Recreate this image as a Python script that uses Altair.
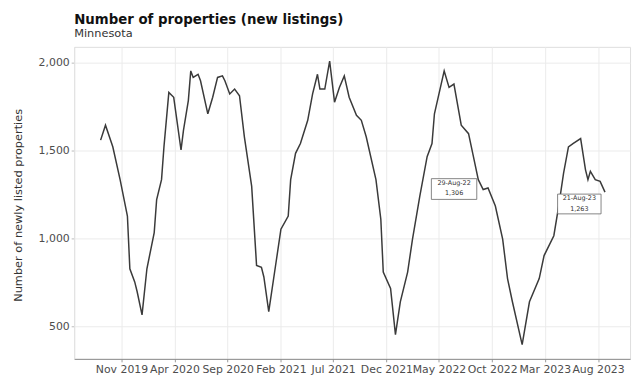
import altair as alt
import pandas as pd

# ---- data ----
dates = [
    "2019-09-02", "2019-09-16", "2019-10-07", "2019-10-28", "2019-11-18", "2019-11-25",
    "2019-12-09", "2019-12-16", "2019-12-30", "2020-01-13", "2020-02-03", "2020-02-10",
    "2020-02-24", "2020-03-02", "2020-03-16", "2020-03-30", "2020-04-20", "2020-04-27",
    "2020-05-11", "2020-05-18", "2020-05-25", "2020-06-08", "2020-06-15", "2020-07-06",
    "2020-07-20", "2020-08-03", "2020-08-17", "2020-08-24", "2020-09-07", "2020-09-21",
    "2020-10-05", "2020-10-19", "2020-11-09", "2020-11-23", "2020-12-07", "2020-12-14",
    "2020-12-28", "2021-01-18", "2021-02-01", "2021-02-22", "2021-03-01", "2021-03-15",
    "2021-03-29", "2021-04-19", "2021-05-03", "2021-05-17", "2021-05-24", "2021-06-07",
    "2021-06-21", "2021-07-05", "2021-07-19", "2021-08-02", "2021-08-16", "2021-09-06",
    "2021-09-20", "2021-10-04", "2021-11-01", "2021-11-15", "2021-11-22", "2021-12-13",
    "2021-12-27", "2022-01-10", "2022-01-31", "2022-02-14", "2022-03-07", "2022-03-28",
    "2022-04-11", "2022-04-18", "2022-05-16", "2022-05-30", "2022-06-13", "2022-07-04",
    "2022-07-25", "2022-08-08", "2022-08-22", "2022-08-29", "2022-09-05", "2022-09-19",
    "2022-10-10", "2022-10-31", "2022-11-14", "2022-11-28", "2022-12-26", "2023-01-16",
    "2023-02-13", "2023-02-27", "2023-03-27", "2023-04-10", "2023-04-24", "2023-05-08",
    "2023-05-22", "2023-06-12", "2023-06-26", "2023-07-03", "2023-07-10", "2023-07-24",
    "2023-08-07", "2023-08-21",
]
values = [
    1559, 1644, 1521, 1334, 1127, 827,
    752, 696, 564, 827, 1033, 1221,
    1334, 1521, 1831, 1803, 1503, 1615,
    1784, 1953, 1916, 1934, 1897, 1709,
    1803, 1916, 1925, 1897, 1822, 1850,
    1812, 1578, 1296, 846, 835, 780,
    583, 864, 1052, 1127, 1334, 1484,
    1540, 1672, 1822, 1934, 1850, 1850,
    2009, 1775, 1859, 1925, 1803, 1700,
    1672, 1578, 1334, 1109, 808, 715,
    452, 639, 808, 996, 1240, 1465,
    1540, 1709, 1953, 1859, 1878, 1644,
    1596, 1465, 1334, 1306, 1278, 1287,
    1184, 996, 771, 639, 395, 639,
    771, 902, 1015, 1184, 1371, 1521,
    1540, 1568, 1390, 1334, 1381, 1334,
    1324, 1263,
]
x_tick_labels = ["Nov 2019", "Apr 2020", "Sep 2020", "Feb 2021", "Jul 2021",
                 "Dec 2021", "May 2022", "Oct 2022", "Mar 2023", "Aug 2023"]
y_ticks = [500, 1000, 1500, 2000]
annotated_dates = ["2022-08-29", "2023-08-21"]

title_text = "Number of properties (new listings)"
subtitle_text = "Minnesota"
y_title = "Number of newly listed properties"

FONT = "DejaVu Sans"

df = pd.DataFrame({"date": pd.to_datetime(dates), "value": values})

ann = df[df["date"].isin(pd.to_datetime(annotated_dates))].copy()
ann["label_date"] = ann["date"].dt.strftime("%d-%b-%y")
ann["label_value"] = ann["value"].map(lambda v: f"{v:,}")

tick_dt = [pd.to_datetime(t, format="%b %Y") for t in x_tick_labels]
tick_values = [alt.DateTime(year=t.year, month=t.month, date=1) for t in tick_dt]

x_scale = alt.Scale(domain=[alt.DateTime(year=2019, month=6, date=18),
                            alt.DateTime(year=2023, month=11, date=1)])
y_scale = alt.Scale(domain=[314, 2090], nice=False, zero=False)

x_enc = alt.X(
    "date:T", scale=x_scale, title=None,
    axis=alt.Axis(values=tick_values, format="%b %Y", labelOverlap=False,
                  labelBound=False, labelFlush=False, labelFontSize=11,
                  labelColor="#4d4d4d", labelFont=FONT, tickSize=3, tickColor="#999999",
                  labelPadding=2, domainColor="#8c8c8c", gridColor="#ebebeb"),
)
y_enc = alt.Y(
    "value:Q", scale=y_scale,
    axis=alt.Axis(values=y_ticks, format=",d", labelFontSize=11, labelColor="#4d4d4d",
                  labelFont=FONT, tickSize=3, tickColor="#bbbbbb", labelPadding=2,
                  domainColor="#e3e3e3", gridColor="#ebebeb",
                  title=y_title, titleFont=FONT, titleFontSize=11.5, titleFontWeight="normal",
                  titleColor="#333333", titleX=-56, titleY=160, titleAngle=-90,
                  titleAlign="center", titleBaseline="middle"),
)

line = alt.Chart(df).mark_line(color="#3a3a3a", strokeWidth=1.5).encode(x=x_enc, y=y_enc)

layers = [line]
offsets = [
    dict(xo=-50, x2o=-4, yo=-6, y2o=15, d1=-2, d2=9),
    dict(xo=-48, x2o=-4, yo=2, y2o=22, d1=6, d2=17),
]
for i, off in enumerate(offsets):
    sub = ann.iloc[[i]]
    box = alt.Chart(sub).mark_rect(
        fill="white", stroke="#666666", strokeWidth=0.8,
        xOffset=off["xo"], x2Offset=off["x2o"], yOffset=off["yo"], y2Offset=off["y2o"],
    ).encode(x="date:T", x2="date", y="value:Q", y2="value")
    cx = (off["xo"] + off["x2o"]) / 2
    t1 = alt.Chart(sub).mark_text(font=FONT, fontSize=6.5, color="#333333",
                                  dx=cx, dy=off["d1"]).encode(
        x="date:T", y="value:Q", text="label_date:N")
    t2 = alt.Chart(sub).mark_text(font=FONT, fontSize=6.5, color="#333333",
                                  dx=cx, dy=off["d2"]).encode(
        x="date:T", y="value:Q", text="label_value:N")
    layers += [box, t1, t2]

chart = alt.layer(*layers).properties(
    width=563, height=316,
    padding={"left": 67, "top": 37, "right": 5, "bottom": 15},
    autosize=alt.AutoSizeParams(type="none"),
    title=alt.TitleParams(
        text=title_text, subtitle=subtitle_text, anchor="start", frame="group",
        font=FONT, fontSize=13.5, fontWeight="bold", color="#111111",
        subtitleFont=FONT, subtitleFontSize=11.5, subtitleColor="#333333",
        subtitlePadding=2, offset=7,
    ),
).configure_view(stroke="#dcdcdc", strokeWidth=1).configure(background="white")

chart.save("out.html", embed_options={"renderer": "svg", "actions": False})
